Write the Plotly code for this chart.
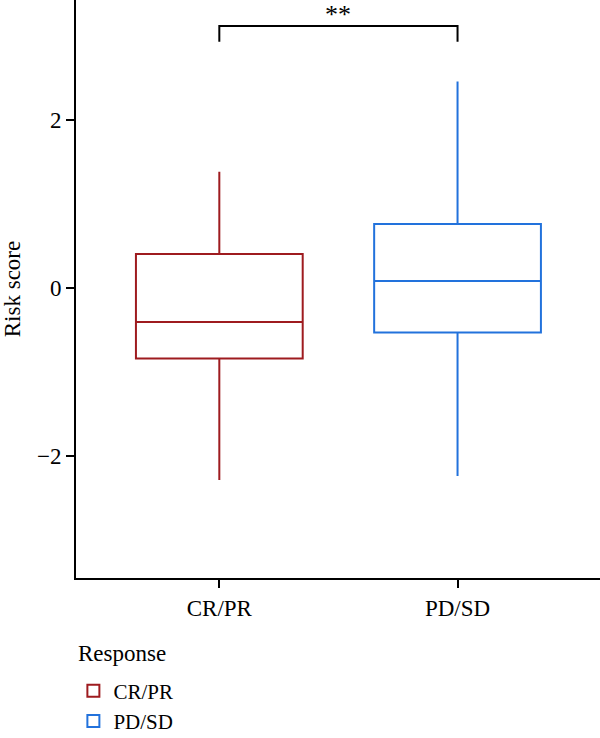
import plotly.graph_objects as go

# ---- data ----
categories = ["CR/PR", "PD/SD"]
lower_whisker = [-2.29, -2.24]
q1_values = [-0.84, -0.53]
medians = [-0.405, 0.083]
q3_values = [0.405, 0.763]
upper_whisker = [1.386, 2.46]
colors = ["#9E1B1F", "#2272DC"]
y_ticks = [-2, 0, 2]
y_tick_labels = ["\u22122", "0", "2"]
signif_label = "**"
bracket_top = 3.123
bracket_bottom = 2.936
legend_title = "Response"

FONT = "Liberation Serif"
FS = 23

fig = go.Figure()
for i, cat in enumerate(categories):
    fig.add_trace(go.Box(
        name=cat,
        x=[cat],
        q1=[q1_values[i]],
        median=[medians[i]],
        q3=[q3_values[i]],
        lowerfence=[lower_whisker[i]],
        upperfence=[upper_whisker[i]],
        width=0.7,
        whiskerwidth=0,
        line=dict(color=colors[i], width=2),
        fillcolor="rgba(255,255,255,0)",
        boxpoints=False,
        showlegend=True,
    ))

# significance bracket
fig.add_shape(type="path", xref="x", yref="y",
              path=f"M 0,{bracket_bottom} L 0,{bracket_top} L 1,{bracket_top} L 1,{bracket_bottom}",
              line=dict(color="black", width=2))
fig.add_annotation(x=0.5, y=bracket_top, xref="x", yref="y", text=signif_label,
                   showarrow=False, yanchor="bottom", borderpad=0, yshift=-4,
                   font=dict(family=FONT, size=26, color="black"))

# legend title
fig.add_annotation(x=0.002, y=-0.1298, xref="paper", yref="paper", text=legend_title,
                   showarrow=False, xanchor="left", yanchor="middle", borderpad=0,
                   font=dict(family=FONT, size=FS, color="black"))

fig.update_layout(
    width=600, height=738,
    margin=dict(l=76, r=0, t=0, b=160, autoexpand=False),
    paper_bgcolor="white", plot_bgcolor="white",
    boxmode="overlay",
    font=dict(family=FONT, size=FS, color="black"),
    legend=dict(
        orientation="v",
        x=-0.005, xanchor="left",
        y=-0.16, yanchor="top",
        font=dict(family=FONT, size=21),
        tracegroupgap=0,
        itemwidth=30,
    ),
    xaxis=dict(
        type="category",
        categoryorder="array",
        categoryarray=categories,
        range=[-0.6016, 1.598],
        showline=True, linecolor="black", linewidth=2,
        ticks="outside", ticklen=8, tickwidth=1.5, tickcolor="black",
        showgrid=False, zeroline=False,
        tickfont=dict(family=FONT, size=FS),
    ),
    yaxis=dict(
        range=[-3.457, 3.433],
        tickvals=y_ticks, ticktext=y_tick_labels,
        showline=True, linecolor="black", linewidth=2,
        ticks="outside", ticklen=8, tickwidth=1.5, tickcolor="black",
        showgrid=False, zeroline=False,
        title=dict(text="Risk score", font=dict(family=FONT, size=FS), standoff=12),
        tickfont=dict(family=FONT, size=FS),
    ),
)

fig.write_html("out.html")
